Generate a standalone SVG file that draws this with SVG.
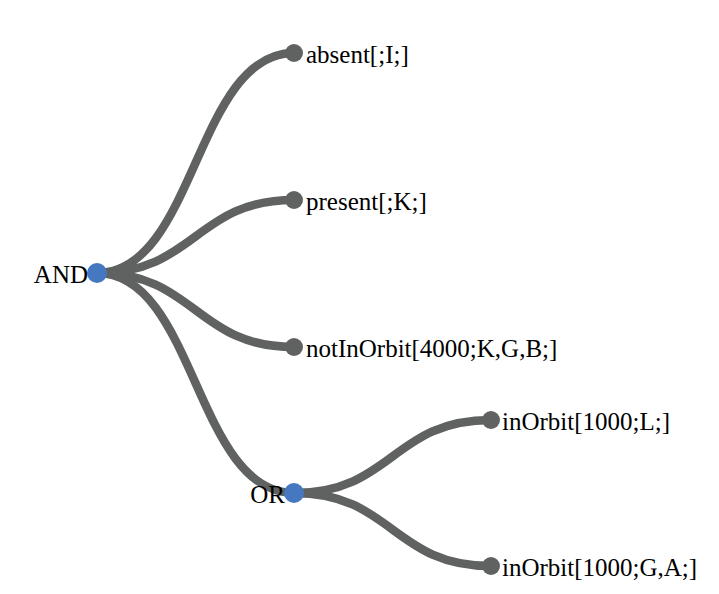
<svg xmlns="http://www.w3.org/2000/svg" width="719" height="594" viewBox="0 0 719 594">
<style>
.link{fill:none;stroke:#606161;stroke-width:8.5;stroke-linecap:round}
.leaf{fill:#606161}
.op{fill:#4677c1}
text{font-family:"Liberation Serif","Times New Roman",serif;font-size:25px;fill:#000}
.r{text-anchor:start}
.l{text-anchor:end}
</style>
<rect width="719" height="594" fill="#fff"/>
<g id="links">
<path class="link" d="M97,273 C195.5,273 195.5,53 294,53"/>
<path class="link" d="M97,273 C195.5,273 195.5,200 294,200"/>
<path class="link" d="M97,273 C195.5,273 195.5,347 294,347"/>
<path class="link" d="M97,273 C195.5,273 195.5,493 294,493"/>
<path class="link" d="M294,493 C392.5,493 392.5,420 491,420"/>
<path class="link" d="M294,493 C392.5,493 392.5,566 491,566"/>
</g>
<g id="node-and"><circle class="op" cx="97" cy="273" r="10"/><text class="l" x="88" y="283">AND</text></g>
<g id="node-absent"><circle class="leaf" cx="294" cy="53" r="9"/><text class="r" x="306" y="63">absent[;I;]</text></g>
<g id="node-present"><circle class="leaf" cx="294" cy="200" r="9"/><text class="r" x="306" y="210">present[;K;]</text></g>
<g id="node-notinorbit"><circle class="leaf" cx="294" cy="347" r="9"/><text class="r" x="306" y="357">notInOrbit[4000;K,G,B;]</text></g>
<g id="node-or"><circle class="op" cx="294" cy="493" r="10"/><text class="l" x="285" y="503">OR</text></g>
<g id="node-inorbit1"><circle class="leaf" cx="491" cy="420" r="9"/><text class="r" x="502" y="430">inOrbit[1000;L;]</text></g>
<g id="node-inorbit2"><circle class="leaf" cx="491" cy="566" r="9"/><text class="r" x="502" y="576">inOrbit[1000;G,A;]</text></g>
</svg>
